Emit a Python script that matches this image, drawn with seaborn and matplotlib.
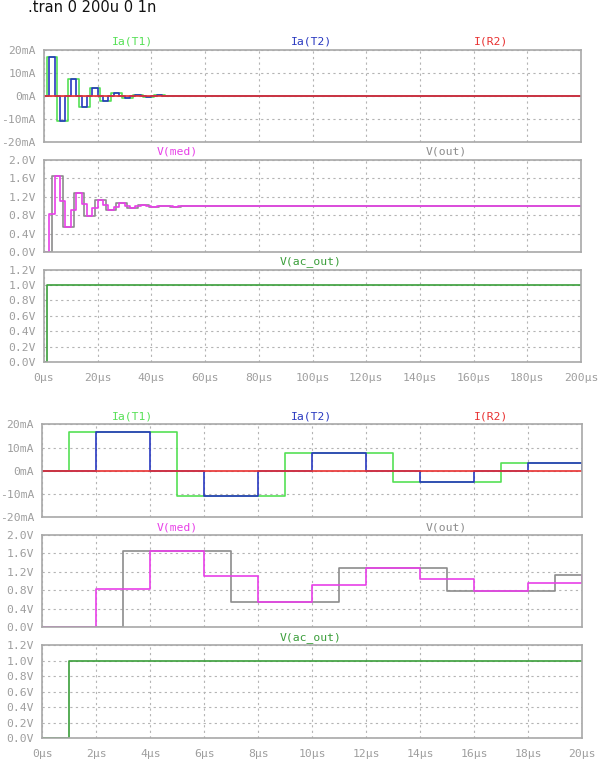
import numpy as np
import pandas as pd
import matplotlib.pyplot as plt
import seaborn as sns

# step traces from the .tran run, time in µs, each value holds until the next time
ia_t1_t = [0, 1, 5, 9, 13, 17, 21, 25, 29, 33, 37, 41, 45, 49, 53, 57, 61, 65, 69, 73]
ia_t1 = [0, 16.8, -11.0, 7.5, -4.9, 3.4, -2.2, 1.5, -1.0, 0.65, -0.44, 0.3, -0.2, 0.13, -0.09, 0.06, -0.04, 0.03, -0.02, 0]

ia_t2_t = [0, 2, 4, 6, 8, 10, 12, 14, 16, 18, 20, 22, 24, 26, 28, 30, 32, 34, 36, 38, 40,
           42, 44, 46, 48, 50, 52, 54, 56, 58, 60]
ia_t2 = [0, 16.8, 0, -11.0, 0, 7.5, 0, -4.9, 0, 3.4, 0, -2.2, 0, 1.5, 0, -1.0, 0, 0.65, 0, -0.44, 0,
         0.3, 0, -0.2, 0, 0.13, 0, -0.09, 0, 0.06, 0]

i_r2_t = [0]
i_r2 = [0.0]

v_med_t = [0, 2, 4, 6, 8, 10, 12, 14, 16, 18, 20, 22, 24, 26, 28, 30, 32, 34, 36, 38, 40, 42, 44, 46, 48, 50]
v_med = [0, 0.83, 1.66, 1.12, 0.55, 0.92, 1.29, 1.04, 0.79, 0.96, 1.13, 1.02, 0.91, 0.985, 1.06, 1.01,
         0.96, 0.995, 1.03, 1.005, 0.98, 0.995, 1.01, 1.0, 0.99, 1.0]

v_out_t = [0, 3, 7, 11, 15, 19, 23, 27, 31, 35, 39, 43, 47, 51]
v_out = [0, 1.66, 0.55, 1.29, 0.79, 1.13, 0.91, 1.06, 0.96, 1.03, 0.98, 1.01, 0.99, 1.0]

v_ac_t = [0, 1]
v_ac = [0, 1.0]

t_end = 200

cur_ticks = [-20, -10, 0, 10, 20]
cur_labels = ['-20mA', '-10mA', '0mA', '10mA', '20mA']
med_ticks = [0, 0.4, 0.8, 1.2, 1.6, 2.0]
med_labels = ['0.0V', '0.4V', '0.8V', '1.2V', '1.6V', '2.0V']
ac_ticks = [0, 0.2, 0.4, 0.6, 0.8, 1.0, 1.2]
ac_labels = ['0.0V', '0.2V', '0.4V', '0.6V', '0.8V', '1.0V', '1.2V']

C_T1 = '#55e055'
C_T2 = '#2838c0'
C_R2 = '#e83030'
C_MED = '#e840e8'
C_OUT = '#8c8c8c'
C_AC = '#3a9e3a'
GRAY = '#a8a8a8'
MONO = 'DejaVu Sans Mono'
FS = 8.2

sns.set_style('white')

W, H = 598, 772
fig = plt.figure(figsize=(W / 100, H / 100), dpi=100)


def trace(t, v):
    return pd.DataFrame({'t': t + [t_end], 'v': v + [v[-1]]})


def px_axes(l, r, t, b):
    return fig.add_axes([l / W, 1 - b / H, (r - l) / W, (b - t) / H])


def draw(ax, t, v, c):
    sns.lineplot(data=trace(t, v), x='t', y='v', ax=ax, color=c, lw=1.2,
                 drawstyle='steps-post', estimator=None, sort=False, legend=False)


def setup(ax, ylim, yt, yl, xmax, xstep, unit_x):
    ax.set_xlim(0, xmax)
    ax.set_ylim(ylim)
    ax.set_yticks(yt)
    ax.set_yticklabels(yl, family=MONO)
    xt = np.arange(0, xmax + xstep / 2, xstep)
    ax.set_xticks(xt)
    ax.set_xlabel('')
    ax.set_ylabel('')
    ax.set_axisbelow(True)
    ax.grid(True, color='#b4b4b4', linestyle=(0, (2, 3)), lw=0.8)
    for s in ax.spines.values():
        s.set_color(GRAY)
        s.set_linewidth(1.2)
    ax.tick_params(axis='y', color=GRAY, length=5, width=1, labelcolor='#9e9e9e', labelsize=FS, pad=1)
    if unit_x:
        ax.set_xticklabels(['%dµs' % x for x in xt], family=MONO)
        ax.tick_params(axis='x', color=GRAY, length=5, width=1, labelcolor='#9e9e9e', labelsize=FS, pad=3)
    else:
        ax.tick_params(axis='x', length=0, labelbottom=False)


groups = [
    # left, right, panel tops/bottoms, x range, x step
    (44, 581, [(50, 142), (160, 252.3), (269.7, 362)], 200, 20),
    (42.3, 582.3, [(424.3, 517.3), (535, 627.3), (645.3, 738)], 20, 2),
]

for left, right, rows, xmax, xstep in groups:
    a1 = px_axes(left, right, *rows[0])
    draw(a1, ia_t1_t, ia_t1, C_T1)
    draw(a1, ia_t2_t, ia_t2, C_T2)
    draw(a1, i_r2_t, i_r2, C_R2)
    setup(a1, (-20, 20), cur_ticks, cur_labels, xmax, xstep, False)

    a2 = px_axes(left, right, *rows[1])
    draw(a2, v_out_t, v_out, C_OUT)
    draw(a2, v_med_t, v_med, C_MED)
    setup(a2, (0, 2.0), med_ticks, med_labels, xmax, xstep, False)

    a3 = px_axes(left, right, *rows[2])
    draw(a3, v_ac_t, v_ac, C_AC)
    setup(a3, (0, 1.2), ac_ticks, ac_labels, xmax, xstep, True)

    # trace names above each pane
    y1 = rows[0][0] - 8
    y2 = rows[1][0] - 8
    y3 = rows[2][0] - 8
    for x, y, s, c in [(132, y1, 'Ia(T1)', C_T1), (311, y1, 'Ia(T2)', C_T2), (491, y1, 'I(R2)', C_R2),
                       (177, y2, 'V(med)', C_MED), (446, y2, 'V(out)', C_OUT),
                       (311, y3, 'V(ac_out)', C_AC)]:
        fig.text(x / W, 1 - y / H, s, color=c, family=MONO, fontsize=FS, ha='center', va='center')

fig.text(28 / W, 1 - 7 / H, '.tran 0 200u 0 1n', fontsize=10.5, ha='left', va='center', color='#111111')

fig.savefig('out.png', dpi=100)
